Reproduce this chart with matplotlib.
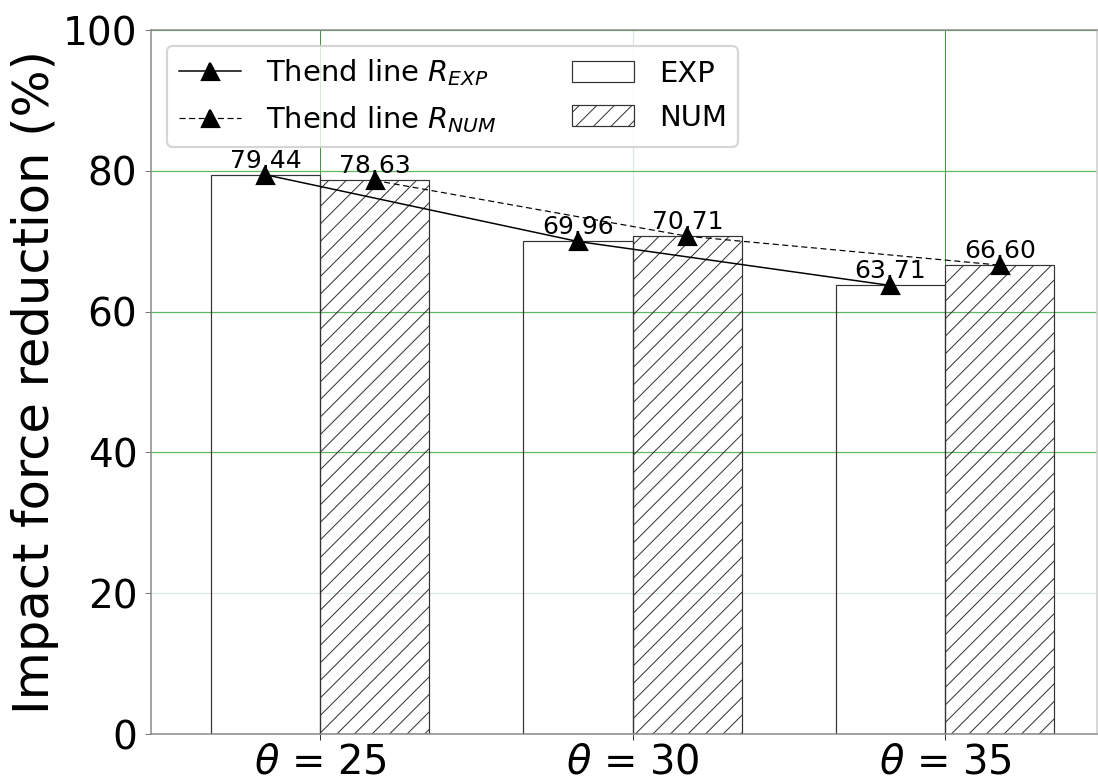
import numpy as np
import matplotlib
matplotlib.use("Agg")
import matplotlib.pyplot as plt

# ---- data ----
categories = [r"$\theta$ = 25", r"$\theta$ = 30", r"$\theta$ = 35"]
exp_values = [79.44, 69.96, 63.71]
num_values = [78.63, 70.71, 66.60]
y_ticks = [0, 20, 40, 60, 80, 100]

DPI = 158
W, H = 1098, 781


def pt(px):
    return px * 72.0 / DPI


plt.rcParams['hatch.linewidth'] = pt(1.0)
plt.rcParams['font.family'] = ['DejaVu Sans']

fig = plt.figure(figsize=(W / DPI, H / DPI), dpi=DPI)
ax = fig.add_axes([151 / W, 47 / H, (1097 - 151) / W, (734 - 30) / H])

x = np.arange(len(categories))
width = 0.35
x_exp = x - width / 2
x_num = x + width / 2

ax.plot(x_exp, exp_values, '-', color='black', marker='^', markersize=pt(17),
        linewidth=pt(1.5), label=r'Thend line $R_{EXP}$', zorder=4)
ax.plot(x_num, num_values, color='black', marker='^', markersize=pt(17),
        linestyle=(0, (5, 3)), linewidth=pt(1.2),
        label=r'Thend line $R_{NUM}$', zorder=4)

ax.bar(x_exp, exp_values, width, facecolor='none', edgecolor='#333333',
       linewidth=pt(1.2), label='EXP', zorder=2)
ax.bar(x_num, num_values, width, facecolor='none', edgecolor='#333333',
       hatch='///', linewidth=pt(1.2), label='NUM', zorder=2)

for xs, vals in ((x_exp, exp_values), (x_num, num_values)):
    for xi, v in zip(xs, vals):
        ax.annotate(f"{v:.2f}", (xi, v), xytext=(0, pt(2)),
                    textcoords='offset points', ha='center', va='bottom',
                    fontsize=pt(25), zorder=5)

ax.set_xlim(-0.541, 2.486)
ax.set_ylim(0, 100)
ax.set_xticks(x)
ax.set_xticklabels(categories, fontsize=pt(40))
ax.set_yticks(y_ticks)
ax.tick_params(axis='y', labelsize=pt(39), color='#777777',
               length=pt(6), width=pt(1))
ax.tick_params(axis='x', color='#333333', length=pt(6), width=pt(1),
               pad=pt(2))
ax.set_ylabel('Impact force reduction (%)', fontsize=pt(49.5), labelpad=pt(4))

ax.grid(True, color='#5cb85c', linewidth=pt(1.2), zorder=0, snap=True)
ax.set_axisbelow(True)
for i, gl in enumerate(ax.yaxis.get_gridlines()):
    if y_ticks[i] == 20:
        gl.set_color('#dcebdc')
for i, gl in enumerate(ax.xaxis.get_gridlines()):
    if i == 1:
        gl.set_color('#dcebdc')
    else:
        gl.set_color('#3c9c3c')
        gl.set_linewidth(pt(1.0))

for s in ax.spines.values():
    s.set_color('#888888')
    s.set_linewidth(pt(1.5))
ax.spines['right'].set_color('#cccccc')

ax.legend(loc='upper left', ncol=2, fontsize=pt(29),
          handlelength=2.15, columnspacing=2.6, handletextpad=0.85,
          borderaxespad=0.55, labelspacing=0.55)

fig.savefig('out.png', dpi=DPI)
